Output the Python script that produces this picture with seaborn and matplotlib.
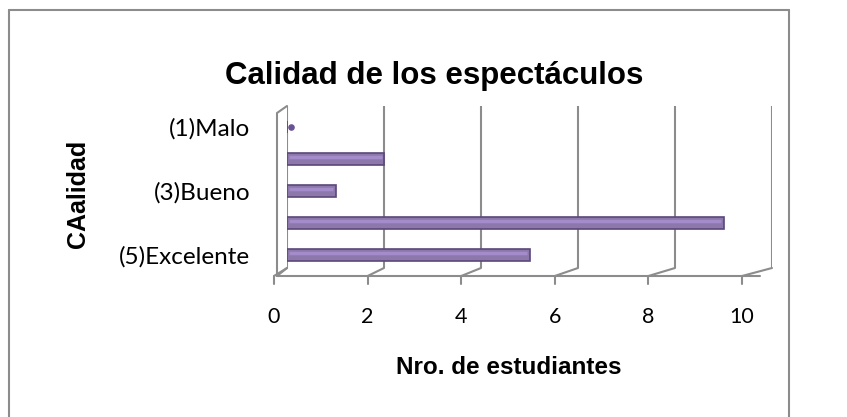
import matplotlib
matplotlib.use("Agg")
import matplotlib.pyplot as plt
import seaborn as sns
import pandas as pd

# data
categorias = ["(1)Malo", "(2)Regular", "(3)Bueno", "(4)Muy bueno", "(5)Excelente"]
estudiantes = [0, 2, 1, 9, 5]
etiquetas_y = ["(1)Malo", "", "(3)Bueno", "", "(5)Excelente"]
ticks_x = [0, 2, 4, 6, 8, 10]

titulo = "Calidad de los espectáculos"
eje_x = "Nro. de estudiantes"
eje_y = "CAalidad"

df = pd.DataFrame({"calidad": categorias, "n": estudiantes})

sns.set_style("white")
plt.rcParams["font.family"] = ["Lato", "DejaVu Sans"]

W, H = 847, 417
fig = plt.figure(figsize=(W / 100, H / 100), dpi=100)
# back wall of the 3d plot area
ax = fig.add_axes([287 / W, 1 - 268 / H, (772 - 287) / W, (268 - 106) / H])

sns.barplot(data=df, x="n", y="calidad", orient="h", color="#8b6fb5",
            edgecolor="#5b477c", linewidth=1.2, width=0.4, ax=ax, zorder=2)
# light stripe to give the bars a bit of the cylinder look
for i, v in enumerate(estudiantes):
    if v > 0:
        ax.plot([0.05, v - 0.05], [i - 0.05, i - 0.05], color="#a48ccb",
                lw=2.5, solid_capstyle="butt", zorder=3)
    else:
        # empty category: Excel still shows the flat end cap
        ax.scatter([0.08], [i], marker="o", s=14, color="#6a5191", zorder=3)

ax.set_xlim(0, 10)
ax.set_ylim(4.41, -0.66)
ax.set_xlabel("")
ax.set_ylabel("")
ax.set_xticks(ticks_x)
ax.set_xticklabels([])
ax.set_yticks(range(len(categorias)))
ax.set_yticklabels(etiquetas_y, fontsize=17.5, color="black")
ax.tick_params(axis="y", length=0, pad=26.6)
ax.tick_params(axis="x", length=0)
for s in ax.spines.values():
    s.set_visible(False)
ax.set_axisbelow(True)

grid_c = "#8c8c8c"
for v in ticks_x:
    ax.axvline(v, color=grid_c, lw=1.5, zorder=0)


def fline(xs, ys, **kw):
    fig.add_artist(plt.Line2D([x / W for x in xs], [1 - y / H for y in ys],
                              color=grid_c, lw=1.5, **kw))


# side wall
fline([287, 277, 277, 287], [106, 113, 276, 268])
# floor front edge and perspective lines
fline([277, 760], [276, 276])
for v in ticks_x:
    xb = 287 + 48.5 * v
    xf = 274 + 46.8 * v
    fline([xb, xf], [268, 276])
    fline([xf, xf], [276, 284])
    fig.text(xf / W, 1 - 317 / H, str(v), ha="center", va="center",
             fontsize=15.5, color="black")

fig.text(434 / W, 1 - 76 / H, titulo, ha="center", va="center",
         fontsize=22.5, fontweight="bold", family="Liberation Sans", color="black")
fig.text(509 / W, 1 - 368 / H, eje_x, ha="center", va="center",
         fontsize=17.5, fontweight="bold", family="Liberation Sans", color="black")
fig.text(78 / W, 1 - 194 / H, eje_y, ha="center", va="center", rotation=90,
         fontsize=18, fontweight="bold", family="Liberation Sans", color="black")

# chart border
fline([9, 9], [417, 10], zorder=5)
fline([9, 789], [10, 10], zorder=5)
fline([789, 789], [10, 417], zorder=5)

fig.savefig("out.png", dpi=100)
